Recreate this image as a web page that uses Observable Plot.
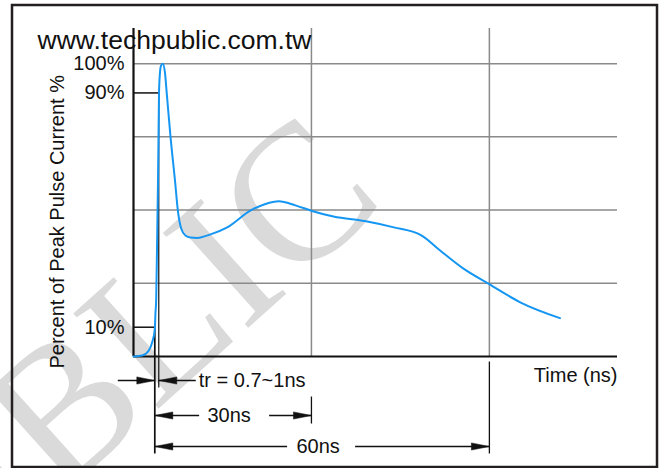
<!DOCTYPE html>
<html><head><meta charset="utf-8">
<script src="https://cdn.jsdelivr.net/npm/d3@7"></script>
<script src="https://cdn.jsdelivr.net/npm/@observablehq/plot@0.6"></script>
<style>body{margin:0;background:#fff} svg{display:block}</style>
</head><body><div id="chart"></div>
<script>
// ---- data ----
const timeNs = [0, 1.47, 2.58, 3.15, 3.59, 3.7, 3.82, 3.96, 4.13, 4.25, 4.3, 4.43, 4.64, 4.94, 5.3, 5.61, 6.24, 7.0, 7.47, 8.04, 8.76, 9.6, 10.74, 12.98, 15.8, 19.7, 22.25, 24.5, 27.3, 30.1, 33.7, 39.4, 43.9, 48.6, 51.7, 55.7, 59.9, 65.2, 71.9];
const pctPeak = [0, 0.34, 2.05, 4.9, 9.1, 14.7, 19.1, 36.2, 60.1, 80.6, 89.8, 96, 99.3, 100, 97, 89.8, 75, 60, 50, 43.7, 41.3, 40.6, 40.5, 41.7, 44.1, 49.8, 52.1, 53, 51.6, 49.7, 47.8, 46.1, 44.1, 41.3, 36.2, 29.9, 24.8, 18.5, 13.1];
const yTickValues = [100, 90, 10];
const yTickLabels = ["100%", "90%", "10%"];
const gridTimes = [30, 60];
const gridPcts = [25, 50, 75, 100];
const riseTimes = [3.59, 4.26];      // 10% and 90% crossings
const dimTimes = [30, 60];
const dimLabels = ["tr = 0.7~1ns", "30ns", "60ns"];
const xLabel = "Time (ns)";
const yLabel = "Percent of Peak Pulse Current %";
const siteText = "www.techpublic.com.tw";
const watermarkText = "PUBLIC";

// ---- layout ----
const W = 661, H = 468, mL = 133, mR = 44, mT = 28, mB = 112;
const xMax = 81.6, yMax = 112;
const kx = (W - mL - mR) / xMax, ky = (H - mT - mB) / yMax;
const px = (v, d) => v + d / kx;   // x value shifted by d pixels
const below = d => -d / ky;         // y value d pixels below the axis
const [t10, t90] = riseTimes;
const [d30, d60] = dimTimes;
const rows = [24, 59, 90];
const c30 = px((t10 + d30) / 2, -4), c60 = px((t10 + d60) / 2, -4);

const curve = timeNs.map((t, i) => ({t, p: pctPeak[i]}));

function head(tip, row, dir, id) {
  const y = below(row), b = px(tip, -dir * 18), w = 3.6 / ky;
  return [{x: tip, y, id}, {x: b, y: y + w, id}, {x: b, y: y - w, id}, {x: tip, y, id}];
}
const heads = [
  ...head(t10, rows[0], 1, 0), ...head(t90, rows[0], -1, 1),
  ...head(t10, rows[1], -1, 2), ...head(d30, rows[1], 1, 3),
  ...head(t10, rows[2], -1, 4), ...head(d60, rows[2], 1, 5)
];
const shafts = [
  {x1: px(t10, -37), x2: t10, y: below(rows[0])},
  {x1: t90, x2: px(t90, 37), y: below(rows[0])},
  {x1: t10, x2: px(c30, -30), y: below(rows[1])},
  {x1: px(c30, 40), x2: d30, y: below(rows[1])},
  {x1: t10, x2: px(c60, -31), y: below(rows[2])},
  {x1: px(c60, 37), x2: d60, y: below(rows[2])}
];
const verticals = [
  {x: t10, y1: 10, y2: below(97), w: 1.7},
  {x: t90, y1: 90, y2: below(31), w: 1.2},
  {x: d30, y1: below(40), y2: below(67), w: 1.3},
  {x: d60, y1: below(5), y2: below(97), w: 1.3}
];
const levelTicks = [{x2: t90, y: 90}, {x2: t10, y: 10}];
const trText = [{x: px(t90, 40), y: below(rows[0]), t: dimLabels[0]}];
const spanText = [
  {x: c30, y: below(rows[1]), t: dimLabels[1]},
  {x: c60, y: below(rows[2]), t: dimLabels[2]}
];

const font = "'Liberation Sans', Arial, sans-serif";
const plot = Plot.plot({
  width: W, height: H,
  marginLeft: mL, marginRight: mR, marginTop: mT, marginBottom: mB,
  x: {domain: [0, xMax], axis: null},
  y: {domain: [0, yMax], axis: null},
  style: {fontFamily: font, background: "#fff", overflow: "visible"},
  marks: [
    Plot.ruleX(gridTimes, {stroke: "#8a8a8a", strokeWidth: 1.5}),
    Plot.ruleY(gridPcts, {stroke: "#8a8a8a", strokeWidth: 1.5}),
    Plot.ruleX([0], {stroke: "#111", strokeWidth: 2.2}),
    Plot.ruleY([0], {stroke: "#111", strokeWidth: 2.2}),
    Plot.link(levelTicks, {x1: 0, x2: "x2", y1: "y", y2: "y", stroke: "#111", strokeWidth: 1.5}),
    Plot.link(verticals, {x1: "x", x2: "x", y1: "y1", y2: "y2", stroke: "#111", strokeWidth: "w"}),
    Plot.link(shafts, {x1: "x1", x2: "x2", y1: "y", y2: "y", stroke: "#111", strokeWidth: 1.3}),
    Plot.line(heads, {x: "x", y: "y", z: "id", fill: "#111", stroke: "#111", strokeWidth: 0.5}),
    Plot.line(curve, {x: "t", y: "p", stroke: "#1496f2", strokeWidth: 2, curve: "monotone-x"}),
    Plot.text(yTickValues, {x: 0, y: d => d, text: (d, i) => yTickLabels[i], dx: -9, textAnchor: "end", fontSize: 20, fill: "#111"}),
    Plot.text(trText, {x: "x", y: "y", text: "t", textAnchor: "start", fontSize: 20, fill: "#111"}),
    Plot.text(spanText, {x: "x", y: "y", text: "t", textAnchor: "middle", fontSize: 20, fill: "#111"}),
    Plot.text([xLabel], {x: xMax, y: below(19), text: d => d, textAnchor: "end", fontSize: 20, fill: "#111"}),
    Plot.text([yLabel], {frameAnchor: "left", y: 46, text: d => d, dx: -76, rotate: -90, textAnchor: "middle", fontSize: 20, fill: "#111"}),
    Plot.text([siteText], {frameAnchor: "top-left", text: d => d, dx: -96, dy: 2, textAnchor: "start", fontSize: 26.5, fill: "#111"})
  ]
});

const svg = d3.select(plot);
// decorative watermark, behind everything
svg.insert("text", "g")
  .attr("transform", "translate(388,202) rotate(-42)")
  .attr("text-anchor", "end")
  .attr("font-family", "'Liberation Serif', 'DejaVu Serif', serif")
  .attr("font-size", 195)
  .attr("fill", "#dadada")
  .text(watermarkText);
// outer border
svg.append("rect").attr("x", 12).attr("y", 5).attr("width", 645).attr("height", 462)
  .attr("fill", "none").attr("stroke", "#231f20").attr("stroke-width", 2.5);
document.getElementById("chart").appendChild(plot);
</script>
</body></html>
